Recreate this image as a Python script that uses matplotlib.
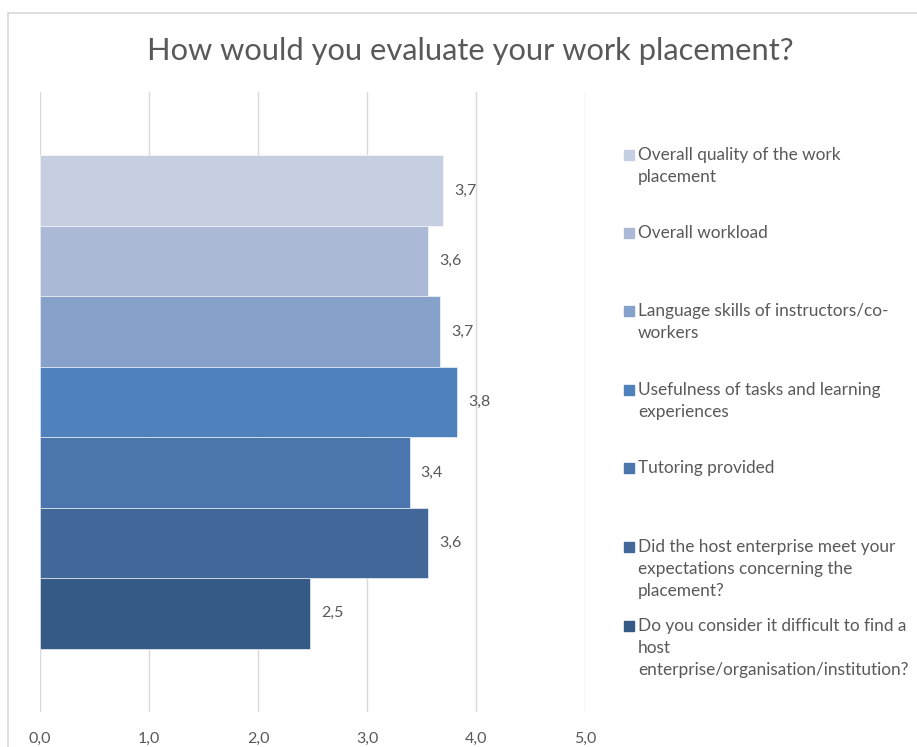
import matplotlib.pyplot as plt
from matplotlib.patches import Rectangle

plt.rcParams['font.family'] = ['Lato', 'DejaVu Sans']

# Data
items = [
    'Overall quality of the work\nplacement',
    'Overall workload',
    'Language skills of instructors/co-\nworkers',
    'Usefulness of tasks and learning\nexperiences',
    'Tutoring provided',
    'Did the host enterprise meet your\nexpectations concerning the\nplacement?',
    'Do you consider it difficult to find a\nhost\nenterprise/organisation/institution?',
]
scores = [3.70, 3.56, 3.67, 3.83, 3.39, 3.56, 2.48]
colors = ['#C5CFE1', '#ABB9D7', '#86A1CA', '#4F81BC', '#4A76AD', '#416899', '#355A85']
ticks = [0, 1, 2, 3, 4, 5]

W, H = 917, 747
fig = plt.figure(figsize=(W / 100, H / 100), dpi=100)

# chart border (partly cropped off like the reference)
fig.add_artist(Rectangle((8 / W, -0.1), 1.2, 1 - 13 / H + 0.1, transform=fig.transFigure,
                         fill=False, edgecolor='#D9D9D9', linewidth=1.2))

ax = fig.add_axes([40 / W, 1 - 712 / H, (585 - 40) / W, (712 - 92) / H])

for i, (v, c) in enumerate(zip(scores, colors)):
    ax.barh(i, v, height=1.0, color=c, edgecolor='white', linewidth=0.4, zorder=2)
    ax.text(v + 0.1, i, f'{v:.1f}'.replace('.', ','), va='center', ha='left',
            fontsize=11.5, color='#595959')

ax.set_xlim(0, 5)
ax.set_ylim(len(scores) - 0.5 + 0.9, -0.5 - 0.9)
ax.set_xticks(ticks)
ax.set_xticklabels([f'{t:.1f}'.replace('.', ',') for t in ticks], fontsize=11.5, color='#595959')
ax.set_yticks([])
ax.tick_params(axis='x', length=0, pad=14)
ax.grid(axis='x', color='#D9D9D9', linewidth=1, zorder=0)
for s in ax.spines.values():
    s.set_visible(False)

fig.text(470 / W, 1 - 51 / H, 'How would you evaluate your work placement?',
         ha='center', va='center', fontsize=22.2, color='#595959')

# legend, placed by hand like the Excel layout
leg_y = [155, 233, 311, 390, 468, 547, 626]
for lab, c, y in zip(items, colors, leg_y):
    fig.add_artist(Rectangle((624 / W, 1 - (y + 5) / H), 10 / W, 10 / H,
                             transform=fig.transFigure, color=c))
    fig.text(638 / W, 1 - (y - 8) / H, lab, ha='left', va='top', fontsize=12.4,
             color='#595959', linespacing=1.45)

fig.savefig('out.png', dpi=100)
